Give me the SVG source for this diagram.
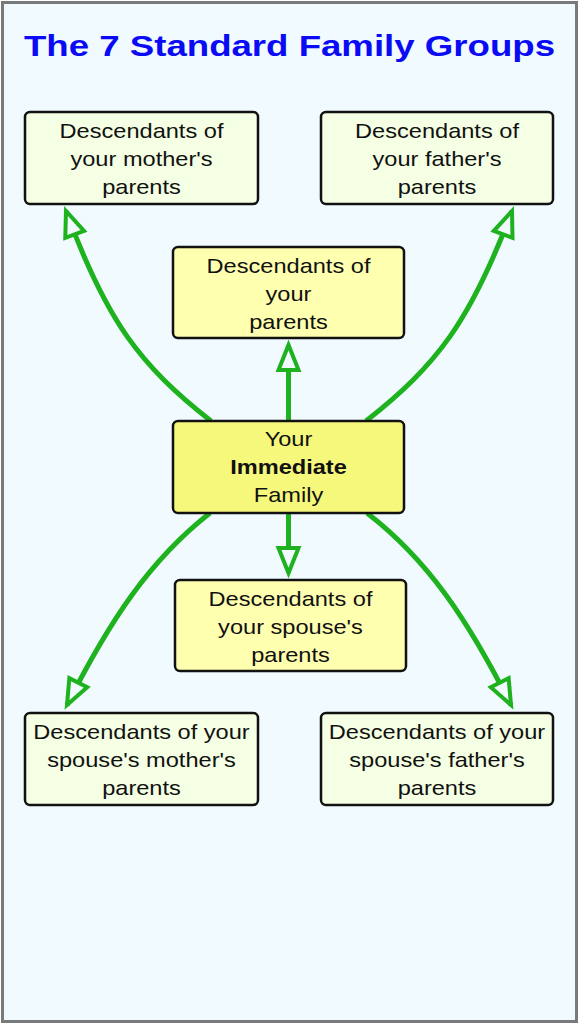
<svg xmlns="http://www.w3.org/2000/svg" width="579" height="1024" viewBox="0 0 579 1024">
<style>
.bg{fill:#f0faff;stroke:#7a7a7a;stroke-width:3}
.box{stroke:#111;stroke-width:2.5}
.outer{fill:#f5ffe3}
.mid{fill:#ffffb0}
.core{fill:#f6f87c}
.t{font-family:"Liberation Sans",Arial,sans-serif;font-size:20px;fill:#111;text-anchor:middle}
.b{font-weight:bold}
.title{font-family:"Liberation Sans",Arial,sans-serif;font-size:29px;font-weight:bold;fill:#0a0af5;text-anchor:middle}
.c{fill:none;stroke:#1fb21f;stroke-width:5}
</style>
<defs>
<marker id="ah" markerUnits="userSpaceOnUse" viewBox="-3 -3 33 26" markerWidth="33" markerHeight="26" refX="25" refY="10" orient="auto" overflow="visible">
<path d="M0,0 L25,10 L0,20 Z" fill="#f0faff" stroke="#1fb21f" stroke-width="4"/>
</marker>
</defs>
<rect class="bg" x="2.5" y="2.5" width="574" height="1019"/>
<text class="title" x="289.5" y="56" textLength="531" lengthAdjust="spacingAndGlyphs">The 7 Standard Family Groups</text>
<g id="connectors">
<path class="c" d="M288.5,421 L288.5,345" marker-end="url(#ah)"/>
<path class="c" d="M288.5,513 L288.5,573" marker-end="url(#ah)"/>
<path class="c" d="M211,421 C140,365 107,322 66,211" marker-end="url(#ah)"/>
<path class="c" d="M366,421 C437,365 470,322 512,211" marker-end="url(#ah)"/>
<path class="c" d="M210,513 C150,560 110,620 67,705" marker-end="url(#ah)"/>
<path class="c" d="M367,513 C428,560 468,620 511,705" marker-end="url(#ah)"/>
</g>
<g id="mothers-parents">
<rect class="box outer" x="25" y="112" width="233" height="92" rx="5"/>
<g transform="translate(141.5,0) scale(1.18,1)">
<text class="t" x="0" y="138">Descendants of</text>
<text class="t" x="0" y="166">your mother's</text>
<text class="t" x="0" y="194">parents</text>
</g>
</g>
<g id="fathers-parents">
<rect class="box outer" x="321" y="112" width="232" height="92" rx="5"/>
<g transform="translate(437,0) scale(1.18,1)">
<text class="t" x="0" y="138">Descendants of</text>
<text class="t" x="0" y="166">your father's</text>
<text class="t" x="0" y="194">parents</text>
</g>
</g>
<g id="parents">
<rect class="box mid" x="173" y="247" width="231" height="91" rx="5"/>
<g transform="translate(288.5,0) scale(1.18,1)">
<text class="t" x="0" y="273">Descendants of</text>
<text class="t" x="0" y="301">your</text>
<text class="t" x="0" y="329">parents</text>
</g>
</g>
<g id="immediate">
<rect class="box core" x="173" y="421" width="231" height="92" rx="5"/>
<g transform="translate(288.5,0) scale(1.18,1)">
<text class="t" x="0" y="446">Your</text>
<text class="t b" x="0" y="474">Immediate</text>
<text class="t" x="0" y="502">Family</text>
</g>
</g>
<g id="spouses-parents">
<rect class="box mid" x="175" y="580" width="231" height="91" rx="5"/>
<g transform="translate(290.5,0) scale(1.18,1)">
<text class="t" x="0" y="606">Descendants of</text>
<text class="t" x="0" y="634">your spouse's</text>
<text class="t" x="0" y="662">parents</text>
</g>
</g>
<g id="spouses-mothers-parents">
<rect class="box outer" x="25" y="713" width="233" height="92" rx="5"/>
<g transform="translate(141.5,0) scale(1.18,1)">
<text class="t" x="0" y="739">Descendants of your</text>
<text class="t" x="0" y="767">spouse's mother's</text>
<text class="t" x="0" y="795">parents</text>
</g>
</g>
<g id="spouses-fathers-parents">
<rect class="box outer" x="321" y="713" width="232" height="92" rx="5"/>
<g transform="translate(437,0) scale(1.18,1)">
<text class="t" x="0" y="739">Descendants of your</text>
<text class="t" x="0" y="767">spouse's father's</text>
<text class="t" x="0" y="795">parents</text>
</g>
</g>
</svg>
